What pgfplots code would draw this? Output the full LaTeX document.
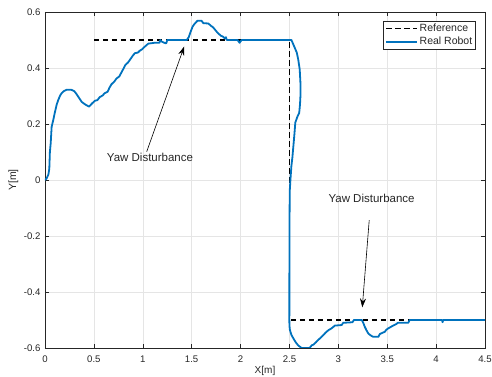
\documentclass[border=0pt]{standalone}
\usepackage{fontspec}
\setmainfont{Liberation Sans}
\usepackage{pgfplots}
\pgfplotsset{compat=1.18}
\usetikzlibrary{arrows.meta}
\definecolor{mblue}{rgb}{0,0.447,0.741}
\definecolor{axgray}{rgb}{0.15,0.15,0.15}
\definecolor{gridgray}{rgb}{0.9,0.9,0.9}

\begin{document}
\begin{tikzpicture}
\begin{axis}[
  at={(0,0)}, anchor=south west,
  scale only axis, width=440bp, height=336bp,
  xmin=0, xmax=4.5, ymin=-0.6, ymax=0.6,
  xtick={0,0.5,1,1.5,2,2.5,3,3.5,4,4.5},
  ytick={-0.6,-0.4,-0.2,0,0.2,0.4,0.6},
  grid=major,
  grid style={gridgray, line width=0.5bp},
  axis line style={axgray, line width=0.5bp},
  tick style={axgray, line width=0.5bp},
  tick align=inside,
  major tick length=4.4bp,
  /pgf/number format/assume math mode=true,
  ticklabel style={font=\fontsize{9.6bp}{11bp}\selectfont, text=axgray},
  xticklabel style={yshift=-4.5bp},
  yticklabel style={xshift=-1bp},
  xlabel={X[m]},
  xlabel style={at={(axis description cs:0.5,-0.0835)}, anchor=south, inner sep=0pt,
    font=\fontsize{10bp}{12bp}\selectfont, text=axgray},
  ylabel={Y[m]},
  ylabel style={at={(axis description cs:-0.0602,0.5)}, anchor=south, inner sep=0pt,
    font=\fontsize{10.5bp}{12bp}\selectfont, text=axgray},
  legend style={at={(1,1)}, anchor=north east, xshift=-9bp, yshift=-9bp,
    draw=axgray, line width=0.5bp, fill=white,
    inner xsep=2bp, inner ysep=1.5bp, row sep=1bp,
    font=\fontsize{10.5bp}{12bp}\selectfont,
    nodes={inner sep=1.5bp, text=axgray}},
  legend cell align=left,
  legend image code/.code={\draw[#1] (0bp,0bp) -- (31bp,0bp);},
]
% reference path
\addplot[black, line width=1.1bp, dash pattern=on 5.5bp off 3.5bp] coordinates {
  (0.5,0.5) (2.5,0.5) (2.5,-0.5) (4.5,-0.5)
};
\addlegendentry{Reference}

% measured robot trajectory
\addplot[mblue, line width=1.8bp, line join=round] coordinates {
  (0.0,0.0) (0.017,0.006) (0.035,0.02) (0.044,0.04) (0.05,0.10) (0.058,0.13)
  (0.068,0.19) (0.085,0.215) (0.10,0.24) (0.12,0.27) (0.136,0.286) (0.155,0.302)
  (0.17,0.31) (0.195,0.318) (0.22,0.322) (0.27,0.322) (0.30,0.317) (0.32,0.308)
  (0.345,0.295) (0.375,0.279) (0.41,0.27) (0.45,0.262) (0.48,0.273) (0.51,0.283)
  (0.535,0.285) (0.56,0.296) (0.59,0.302) (0.61,0.31) (0.64,0.315) (0.66,0.33)
  (0.68,0.342) (0.71,0.352) (0.73,0.362) (0.76,0.37) (0.78,0.383) (0.80,0.396)
  (0.82,0.41) (0.85,0.42) (0.87,0.43) (0.90,0.445) (0.92,0.453) (0.95,0.455)
  (0.97,0.462) (0.99,0.466) (1.02,0.476) (1.056,0.487) (1.12,0.49) (1.17,0.49)
  (1.18,0.5) (1.19,0.495) (1.22,0.49) (1.24,0.488) (1.25,0.5) (1.45,0.5)
  (1.47,0.51) (1.49,0.53) (1.51,0.548) (1.53,0.558) (1.56,0.569) (1.60,0.569)
  (1.62,0.56) (1.67,0.559) (1.70,0.55) (1.72,0.545) (1.75,0.532) (1.77,0.524)
  (1.80,0.515) (1.82,0.512) (1.84,0.505) (1.85,0.51) (1.86,0.5) (1.97,0.5)
  (1.99,0.49) (2.01,0.5) (2.52,0.5) (2.545,0.48) (2.575,0.455) (2.59,0.43)
  (2.605,0.395) (2.612,0.35) (2.614,0.31) (2.608,0.27) (2.60,0.24) (2.58,0.225)
  (2.56,0.205) (2.55,0.16) (2.54,0.12) (2.53,0.08) (2.52,0.05) (2.51,0.0)
  (2.503,-0.04) (2.50,-0.2) (2.499,-0.5) (2.50,-0.52) (2.505,-0.536) (2.52,-0.553)
  (2.539,-0.565) (2.565,-0.58) (2.59,-0.591) (2.625,-0.6) (2.70,-0.6) (2.71,-0.598)
  (2.73,-0.59) (2.745,-0.588) (2.77,-0.58) (2.795,-0.571) (2.82,-0.563) (2.846,-0.554)
  (2.87,-0.545) (2.90,-0.536) (2.93,-0.53) (2.965,-0.52) (3.034,-0.518) (3.05,-0.51)
  (3.145,-0.508) (3.16,-0.5) (3.24,-0.5) (3.255,-0.51) (3.27,-0.524) (3.29,-0.538)
  (3.306,-0.548) (3.33,-0.555) (3.357,-0.56) (3.41,-0.56) (3.425,-0.55) (3.45,-0.546)
  (3.476,-0.542) (3.49,-0.535) (3.51,-0.53) (3.535,-0.525) (3.56,-0.52) (3.59,-0.515)
  (3.61,-0.51) (3.715,-0.51) (3.73,-0.5) (4.06,-0.5) (4.066,-0.508) (4.072,-0.5)
  (4.5,-0.5)
};
\addlegendentry{Real Robot}

% annotations
\draw[-{Stealth[length=9bp,width=6bp]}, line width=0.6bp]
  (axis cs:1.04,0.101) -- (axis cs:1.424,0.477);
\node[font=\fontsize{11.5bp}{13bp}\selectfont, text=axgray]
  at (axis cs:1.074,0.081) {Yaw Disturbance};
\draw[-{Stealth[length=9bp,width=6bp]}, line width=0.6bp]
  (axis cs:3.316,-0.143) -- (axis cs:3.245,-0.455);
\node[font=\fontsize{11.5bp}{13bp}\selectfont, text=axgray]
  at (axis cs:3.34,-0.066) {Yaw Disturbance};
\end{axis}
\pgfresetboundingbox
\useasboundingbox (-45bp,-29bp) rectangle (447bp,348bp);
\end{tikzpicture}
\end{document}
